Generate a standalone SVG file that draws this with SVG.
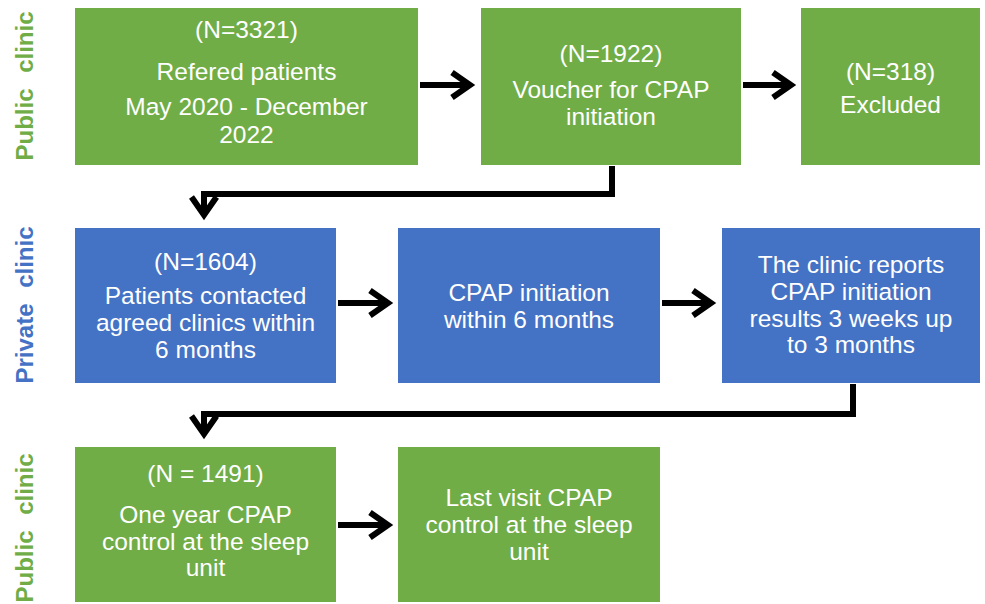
<svg xmlns="http://www.w3.org/2000/svg" width="985" height="604" viewBox="0 0 985 604">
<style>
.g{fill:#70AD47}
.b{fill:#4472C4}
.t{font-family:"Liberation Sans",Arial,sans-serif;font-size:24.5px;fill:#fff;text-anchor:middle}
.lab{font-family:"Liberation Sans",Arial,sans-serif;font-size:24px;font-weight:bold;text-anchor:middle;word-spacing:9px}
.c{fill:none;stroke:#000;stroke-width:6;stroke-linejoin:miter;marker-end:url(#chev)}
</style>
<defs>
<marker id="chev" markerUnits="userSpaceOnUse" orient="auto" refX="0" refY="0" markerWidth="40" markerHeight="40" viewBox="-30 -20 40 40" overflow="visible">
<path d="M-18,-12.5 L0,0 L-18,12.5" fill="none" stroke="#000" stroke-width="6" stroke-linejoin="miter" stroke-miterlimit="10"/>
</marker>
</defs>
<rect width="985" height="604" fill="#fff"/>
<g id="lanes">
<text class="lab" fill="#70AD47" transform="translate(33,86) rotate(-90)">Public clinic</text>
<text class="lab" fill="#4472C4" transform="translate(33,305) rotate(-90)">Private clinic</text>
<text class="lab" fill="#70AD47" transform="translate(33,528) rotate(-90)">Public clinic</text>
</g>
<g id="n1"><rect class="g" x="75" y="8" width="343" height="157"/>
<text class="t" x="246.5" y="38">(N=3321)</text>
<text class="t" x="246.5" y="80">Refered patients</text>
<text class="t" x="246.5" y="115">May 2020 - December</text>
<text class="t" x="246.5" y="143">2022</text></g>
<g id="n2"><rect class="g" x="481" y="8" width="260" height="157"/>
<text class="t" x="611" y="62">(N=1922)</text>
<text class="t" x="611" y="98">Voucher for CPAP</text>
<text class="t" x="611" y="125">initiation</text></g>
<g id="n3"><rect class="g" x="801" y="8" width="179" height="157"/>
<text class="t" x="890.5" y="80">(N=318)</text>
<text class="t" x="890.5" y="113">Excluded</text></g>
<g id="n4"><rect class="b" x="75" y="228" width="261" height="155"/>
<text class="t" x="205.5" y="270">(N=1604)</text>
<text class="t" x="205.5" y="304">Patients contacted</text>
<text class="t" x="205.5" y="331">agreed clinics within</text>
<text class="t" x="205.5" y="358">6 months</text></g>
<g id="n5"><rect class="b" x="398" y="228" width="262" height="155"/>
<text class="t" x="529" y="301">CPAP initiation</text>
<text class="t" x="529" y="328">within 6 months</text></g>
<g id="n6"><rect class="b" x="722" y="228" width="258" height="155"/>
<text class="t" x="851" y="273">The clinic reports</text>
<text class="t" x="851" y="300">CPAP initiation</text>
<text class="t" x="851" y="327">results 3 weeks up</text>
<text class="t" x="851" y="353">to 3 months</text></g>
<g id="n7"><rect class="g" x="75" y="447" width="261" height="155"/>
<text class="t" x="205.5" y="482">(N = 1491)</text>
<text class="t" x="205.5" y="523">One year CPAP</text>
<text class="t" x="205.5" y="550">control at the sleep</text>
<text class="t" x="205.5" y="576">unit</text></g>
<g id="n8"><rect class="g" x="398" y="447" width="262" height="155"/>
<text class="t" x="529" y="506">Last visit CPAP</text>
<text class="t" x="529" y="533">control at the sleep</text>
<text class="t" x="529" y="560">unit</text></g>
<g id="connectors">
<path class="c" d="M420,85 H470"/>
<path class="c" d="M743,85 H791"/>
<path class="c" d="M612,166 V194 H204 V215"/>
<path class="c" d="M338,303 H388"/>
<path class="c" d="M662,303 H711"/>
<path class="c" d="M853,384 V414 H204 V434"/>
<path class="c" d="M338,525 H388"/>
</g>
</svg>
